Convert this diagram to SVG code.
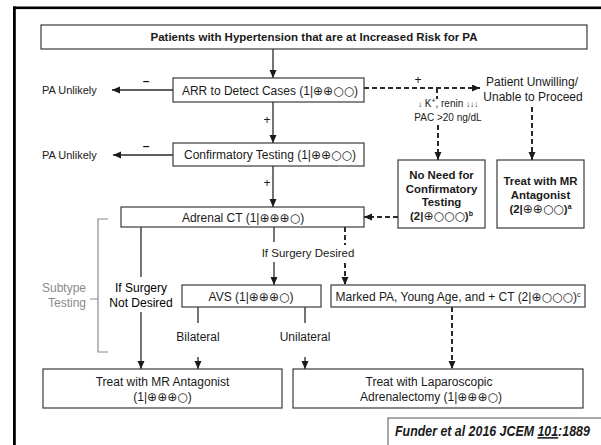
<svg xmlns="http://www.w3.org/2000/svg" width="601" height="445" viewBox="0 0 601 445">
<style>
  text { font-family: "Liberation Sans", "DejaVu Sans", Arial, sans-serif; fill: #1a1a1a; }
  .t { font-size: 12px; text-anchor: middle; }
  .s { font-size: 11px; }
  .b { font-size: 11.4px; font-weight: bold; text-anchor: middle; }
  .g { font-size: 12px; fill: #8a8a8a; text-anchor: end; }
  .sym { font-family: "DejaVu Sans", sans-serif; font-size: 12px; font-weight: normal; }
  .sup { font-size: 7px; }
  .box { fill: #fff; stroke: #3a3a3a; stroke-width: 1.2; }
  .ln { fill: none; stroke: #2a2a2a; stroke-width: 1.3; }
  .dl { fill: none; stroke: #2a2a2a; stroke-width: 2; stroke-dasharray: 5 3; }
  .br { fill: none; stroke: #8a8a8a; stroke-width: 1.2; }
</style>
<defs>
  <marker id="ah" markerUnits="userSpaceOnUse" markerWidth="8" markerHeight="8" refX="8" refY="3.5" orient="auto">
    <path d="M0,0 L8,3.5 L0,7 z" fill="#1a1a1a"/>
  </marker>
</defs>
<rect x="0" y="0" width="601" height="445" fill="#fff"/>
<!-- frame -->
<rect x="13" y="6.5" width="588" height="2.6" fill="#000"/>
<rect x="13" y="6.5" width="2.8" height="438.5" fill="#000"/>

<g id="connectors">
  <line class="ln" x1="273" y1="49" x2="273" y2="78" marker-end="url(#ah)"/>
  <line class="ln" x1="173" y1="90" x2="112" y2="90" marker-end="url(#ah)"/>
  <line class="ln" x1="273" y1="102" x2="273" y2="143" marker-end="url(#ah)"/>
  <line class="ln" x1="173" y1="155" x2="113" y2="155" marker-end="url(#ah)"/>
  <line class="ln" x1="273" y1="166" x2="273" y2="207" marker-end="url(#ah)"/>
  <line class="dl" x1="364" y1="88" x2="480" y2="88" marker-end="url(#ah)"/>
  <line class="dl" x1="437" y1="88" x2="437" y2="99"/>
  <line class="dl" x1="438" y1="125" x2="438" y2="160" marker-end="url(#ah)"/>
  <line class="dl" x1="532" y1="107" x2="532" y2="160" marker-end="url(#ah)"/>
  <line class="dl" x1="398" y1="217" x2="364" y2="217" marker-end="url(#ah)"/>
  <line class="ln" x1="141" y1="227" x2="141" y2="277"/>
  <line class="ln" x1="141" y1="312" x2="141" y2="369" marker-end="url(#ah)"/>
  <line class="ln" x1="274" y1="227" x2="274" y2="242"/>
  <line class="ln" x1="274" y1="262" x2="274" y2="285" marker-end="url(#ah)"/>
  <line class="dl" x1="345" y1="227" x2="345" y2="245"/>
  <line class="dl" x1="345" y1="263" x2="345" y2="285" marker-end="url(#ah)"/>
  <line class="ln" x1="198" y1="307" x2="198" y2="323"/>
  <line class="ln" x1="198" y1="357" x2="198" y2="369" marker-end="url(#ah)"/>
  <line class="ln" x1="305" y1="307" x2="305" y2="323"/>
  <line class="ln" x1="305" y1="357" x2="305" y2="369" marker-end="url(#ah)"/>
  <line class="dl" x1="452" y1="307" x2="452" y2="369" marker-end="url(#ah)"/>
  <path class="br" d="M108,219 H98 V352 H108 M90,299 H98"/>
  <text class="t" x="146" y="85" style="font-weight:bold">–</text>
  <text class="t" x="146" y="150" style="font-weight:bold">–</text>
  <text class="t" x="267" y="124">+</text>
  <text class="t" x="267" y="187">+</text>
  <text class="t" x="418" y="84">+</text>
  <text class="t" x="448" y="107" style="font-size:10px"><tspan style="font-size:8px">↓</tspan> K<tspan class="sup" dy="-4">+</tspan><tspan dy="4">, renin </tspan><tspan style="font-size:8px">↓↓↓</tspan></text>
  <text class="t" x="448" y="121" style="font-size:10px">PAC &gt;20 ng/dL</text>
  <text class="t" x="308" y="257" style="font-size:11.5px">If Surgery Desired</text>
  <text class="t" x="141" y="292" style="fill:#000">If Surgery</text>
  <text class="t" x="141" y="307" style="fill:#000">Not Desired</text>
  <text class="t" x="198" y="341">Bilateral</text>
  <text class="t" x="305" y="341">Unilateral</text>
  <text class="s" x="42" y="94">PA Unlikely</text>
  <text class="s" x="42" y="159">PA Unlikely</text>
</g>

<g id="title">
  <rect class="box" x="41" y="25" width="546" height="24"/>
  <text x="314" y="41" style="font-size:11.5px;font-weight:bold;text-anchor:middle">Patients with Hypertension that are at Increased Risk for PA</text>
</g>

<g id="arr">
  <rect class="box" x="173" y="78" width="191" height="24"/>
  <text class="t" x="270" y="94.5">ARR to Detect Cases (1|<tspan class="sym">⊕⊕○○</tspan>)</text>
</g>

<g id="confirm">
  <rect class="box" x="173" y="143" width="191" height="23"/>
  <text class="t" x="270" y="159">Confirmatory Testing (1|<tspan class="sym">⊕⊕○○</tspan>)</text>
</g>

<g id="unwilling">
  <text class="t" x="532" y="86">Patient Unwilling/</text>
  <text class="t" x="533" y="101">Unable to Proceed</text>
</g>

<g id="noneed">
  <rect class="box" x="398" y="160" width="87" height="68"/>
  <text class="b" x="441.5" y="179">No Need for</text>
  <text class="b" x="441.5" y="193">Confirmatory</text>
  <text class="b" x="441.5" y="206">Testing</text>
  <text class="b" x="441.5" y="220">(2|<tspan class="sym">⊕○○○</tspan>)<tspan class="sup" dy="-4">b</tspan></text>
</g>

<g id="mr-right">
  <rect class="box" x="497" y="160" width="87" height="68"/>
  <text class="b" x="540.5" y="185">Treat with MR</text>
  <text class="b" x="540.5" y="198.5">Antagonist</text>
  <text class="b" x="540.5" y="212.5">(2|<tspan class="sym">⊕⊕○○</tspan>)<tspan class="sup" dy="-4">a</tspan></text>
</g>

<g id="ct">
  <rect class="box" x="121" y="207" width="243" height="20"/>
  <text class="t" x="243" y="221.5">Adrenal CT (1|<tspan class="sym">⊕⊕⊕○</tspan>)</text>
</g>

<g id="subtype">
  <text class="g" x="86" y="292">Subtype</text>
  <text class="g" x="86" y="307">Testing</text>
</g>

<g id="avs">
  <rect class="box" x="182" y="285" width="139" height="22"/>
  <text class="t" x="251" y="300.5">AVS (1|<tspan class="sym">⊕⊕⊕○</tspan>)</text>
</g>

<g id="marked">
  <rect class="box" x="331" y="285" width="254" height="22"/>
  <text class="t" x="458" y="300.5">Marked PA, Young Age, and + CT (2|<tspan class="sym">⊕○○○</tspan>)<tspan class="sup" dy="-4">c</tspan></text>
</g>

<g id="mr-bottom">
  <rect class="box" x="43" y="369" width="239" height="39"/>
  <text class="t" x="162.5" y="385.5">Treat with MR Antagonist</text>
  <text class="t" x="162.5" y="401">(1|<tspan class="sym">⊕⊕⊕○</tspan>)</text>
</g>

<g id="adrenalectomy">
  <rect class="box" x="293" y="369" width="290" height="39"/>
  <text class="t" x="429" y="385.5">Treat with Laparoscopic</text>
  <text class="t" x="431" y="401">Adrenalectomy  (1|<tspan class="sym">⊕⊕⊕○</tspan>)</text>
</g>

<g id="citation">
  <rect x="388" y="418" width="220" height="40" fill="#fff" stroke="#555" stroke-width="1"/>
  <text transform="translate(395,436) scale(0.8,1)" x="0" y="0" style="font-size:15.5px;font-weight:bold;font-style:italic">Funder et al 2016 JCEM <tspan style="text-decoration:underline">101</tspan>:1889</text>
</g>
</svg>
